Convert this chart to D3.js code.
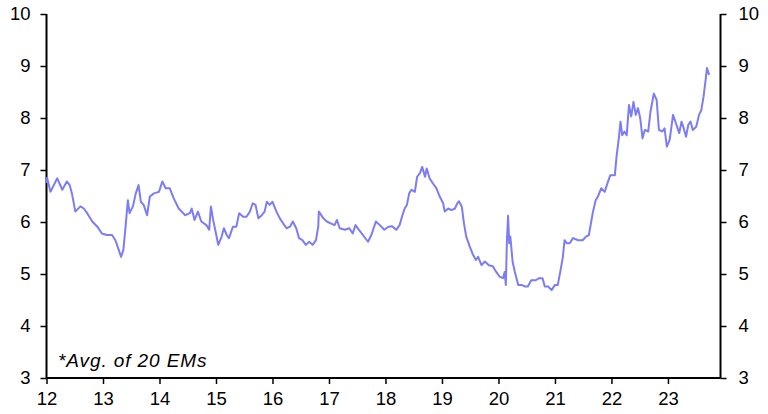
<!DOCTYPE html>
<html>
<head>
<meta charset="utf-8">
<script src="https://cdn.jsdelivr.net/npm/d3@7"></script>
<style>
  html, body { margin: 0; padding: 0; background: #fff; }
  svg { display: block; font-family: "Liberation Sans", Arial, sans-serif; }
</style>
</head>
<body>
<svg id="chart" width="768" height="414"></svg>
<script>
// Decimal years
const dates = [
  2012.00, 2012.01, 2012.07, 2012.19, 2012.28, 2012.36, 2012.41, 2012.45, 2012.51, 2012.60,
  2012.66, 2012.72, 2012.81, 2012.90, 2012.98, 2013.07, 2013.16, 2013.22, 2013.28, 2013.32,
  2013.36, 2013.40, 2013.44, 2013.47, 2013.53, 2013.58, 2013.63, 2013.67, 2013.72, 2013.78,
  2013.83, 2013.90, 2013.99, 2014.05, 2014.11, 2014.18, 2014.25, 2014.34, 2014.42, 2014.45,
  2014.54, 2014.57, 2014.62, 2014.68, 2014.74, 2014.83, 2014.88, 2014.91, 2014.95, 2015.00,
  2015.04, 2015.10, 2015.14, 2015.19, 2015.23, 2015.30, 2015.36, 2015.41, 2015.48, 2015.54,
  2015.60, 2015.65, 2015.70, 2015.75, 2015.81, 2015.86, 2015.90, 2015.95, 2016.00, 2016.07,
  2016.13, 2016.19, 2016.25, 2016.31, 2016.36, 2016.42, 2016.47, 2016.53, 2016.59, 2016.65,
  2016.71, 2016.77, 2016.81, 2016.82, 2016.84, 2016.90, 2016.96, 2017.04, 2017.10, 2017.14,
  2017.19, 2017.28, 2017.36, 2017.42, 2017.47, 2017.53, 2017.60, 2017.69, 2017.75, 2017.83,
  2017.90, 2017.98, 2018.05, 2018.12, 2018.19, 2018.25, 2018.30, 2018.34, 2018.38, 2018.42,
  2018.46, 2018.52, 2018.56, 2018.61, 2018.65, 2018.70, 2018.73, 2018.78, 2018.84, 2018.90,
  2018.96, 2019.02, 2019.05, 2019.11, 2019.17, 2019.23, 2019.27, 2019.30, 2019.35, 2019.39,
  2019.43, 2019.49, 2019.55, 2019.60, 2019.64, 2019.70, 2019.76, 2019.83, 2019.90, 2019.96,
  2020.02, 2020.08, 2020.11, 2020.13, 2020.15, 2020.17, 2020.19, 2020.21, 2020.25, 2020.29,
  2020.35, 2020.41, 2020.47, 2020.52, 2020.58, 2020.66, 2020.72, 2020.78, 2020.82, 2020.88,
  2020.94, 2021.00, 2021.05, 2021.10, 2021.14, 2021.17, 2021.21, 2021.26, 2021.32, 2021.41,
  2021.49, 2021.55, 2021.60, 2021.67, 2021.72, 2021.76, 2021.82, 2021.88, 2021.94, 2021.98,
  2022.06, 2022.09, 2022.13, 2022.16, 2022.19, 2022.23, 2022.27, 2022.31, 2022.35, 2022.39,
  2022.43, 2022.47, 2022.51, 2022.55, 2022.59, 2022.65, 2022.69, 2022.75, 2022.80, 2022.84,
  2022.90, 2022.94, 2022.98, 2023.03, 2023.09, 2023.15, 2023.20, 2023.24, 2023.28, 2023.32,
  2023.36, 2023.40, 2023.44, 2023.50, 2023.55, 2023.59, 2023.63, 2023.67, 2023.69, 2023.73
];
// Average (%) of 20 EMs
const values = [
  6.75, 6.85, 6.58, 6.84, 6.62, 6.78, 6.71, 6.55, 6.20, 6.30,
  6.26, 6.17, 6.01, 5.91, 5.78, 5.75, 5.75, 5.65, 5.46, 5.33,
  5.46, 5.91, 6.42, 6.17, 6.30, 6.55, 6.71, 6.39, 6.33, 6.13,
  6.49, 6.55, 6.58, 6.78, 6.65, 6.65, 6.46, 6.26, 6.17, 6.13,
  6.17, 6.26, 6.04, 6.20, 6.01, 5.94, 5.85, 6.30, 6.04, 5.78,
  5.56, 5.72, 5.88, 5.75, 5.69, 5.91, 5.91, 6.17, 6.10, 6.10,
  6.20, 6.36, 6.33, 6.07, 6.13, 6.20, 6.39, 6.33, 6.39, 6.20,
  6.07, 5.97, 5.88, 5.91, 6.01, 5.88, 5.69, 5.65, 5.56, 5.62,
  5.56, 5.65, 5.91, 6.20, 6.17, 6.07, 6.01, 5.97, 5.94, 6.04,
  5.88, 5.85, 5.88, 5.78, 5.94, 5.85, 5.75, 5.62, 5.75, 6.01,
  5.94, 5.85, 5.91, 5.92, 5.85, 5.94, 6.13, 6.26, 6.33, 6.55,
  6.62, 6.58, 6.87, 6.94, 7.06, 6.87, 7.03, 6.84, 6.74, 6.65,
  6.49, 6.36, 6.20, 6.26, 6.23, 6.26, 6.36, 6.40, 6.30, 5.97,
  5.72, 5.53, 5.37, 5.27, 5.33, 5.17, 5.24, 5.17, 5.15, 5.04,
  4.95, 4.92, 5.04, 4.79, 5.65, 6.12, 5.59, 5.72, 5.24, 5.04,
  4.79, 4.79, 4.76, 4.76, 4.88, 4.88, 4.92, 4.92, 4.76, 4.76,
  4.69, 4.79, 4.79, 5.08, 5.33, 5.65, 5.59, 5.59, 5.69, 5.65,
  5.65, 5.72, 5.75, 6.18, 6.42, 6.49, 6.65, 6.58, 6.78, 6.90,
  6.90, 7.26, 7.61, 7.93, 7.67, 7.74, 7.67, 8.25, 8.03, 8.31,
  8.06, 8.19, 7.99, 7.61, 7.77, 7.74, 8.12, 8.47, 8.35, 7.77,
  7.74, 7.80, 7.45, 7.58, 8.06, 7.87, 7.71, 7.93, 7.80, 7.64,
  7.87, 7.93, 7.77, 7.83, 8.06, 8.15, 8.41, 8.76, 8.96, 8.83
];
const xTickValues = [2012, 2013, 2014, 2015, 2016, 2017, 2018, 2019, 2020, 2021, 2022, 2023];
const xTickLabels = ["12", "13", "14", "15", "16", "17", "18", "19", "20", "21", "22", "23"];
const yTickValues = [3, 4, 5, 6, 7, 8, 9, 10];
const footnote = "*Avg. of 20 EMs";

const svg = d3.select("#chart");
const mLeft = 46.5, mRight = 720.5, mTop = 14, mBottom = 378;

const x = d3.scaleLinear().domain([2012, 2023.93]).range([mLeft, mRight]);
const y = d3.scaleLinear().domain([3, 10]).range([mBottom, mTop]);

const fontSize = "18.5px";

// Left axis
const gL = svg.append("g").attr("transform", `translate(${mLeft},0)`)
  .call(d3.axisLeft(y).tickValues(yTickValues).tickSize(6).tickPadding(10).tickFormat(d3.format("d")));
// Right axis
const gR = svg.append("g").attr("transform", `translate(${mRight},0)`)
  .call(d3.axisRight(y).tickValues(yTickValues).tickSize(6).tickPadding(12).tickFormat(d3.format("d")));
// Bottom axis
const gB = svg.append("g").attr("transform", `translate(0,${mBottom})`)
  .call(d3.axisBottom(x).tickValues(xTickValues).tickSize(6).tickPadding(8)
    .tickFormat((d, i) => xTickLabels[i]));

[gL, gR, gB].forEach(g => {
  g.select(".domain").attr("stroke", "#000").attr("stroke-width", 2);
  g.selectAll(".tick line").attr("stroke", "#000").attr("stroke-width", 1.5);
  g.selectAll(".tick text").attr("fill", "#000").style("font-size", fontSize)
    .style("font-family", "'Liberation Sans', Arial, sans-serif");
});
gL.select(".domain").attr("d", `M0,${mTop}V${mBottom}`);
gR.select(".domain").attr("d", `M0,${mTop}V${mBottom}`);
gB.select(".domain").attr("d", `M${mLeft},0H${mRight}`);

// Line
const pts = dates.map((d, i) => [d, values[i]]);
const line = d3.line().x(d => x(d[0])).y(d => y(d[1]));
svg.append("path")
  .datum(pts)
  .attr("d", line)
  .attr("fill", "none")
  .attr("stroke", "#7c7cf6")
  .attr("stroke-width", 2)
  .attr("stroke-linejoin", "round");

// Footnote
svg.append("text")
  .attr("x", 58)
  .attr("y", 366.5)
  .attr("font-style", "italic")
  .style("font-size", "19px")
  .style("letter-spacing", "0.9px")
  .attr("fill", "#000")
  .text(footnote);
</script>
</body>
</html>
